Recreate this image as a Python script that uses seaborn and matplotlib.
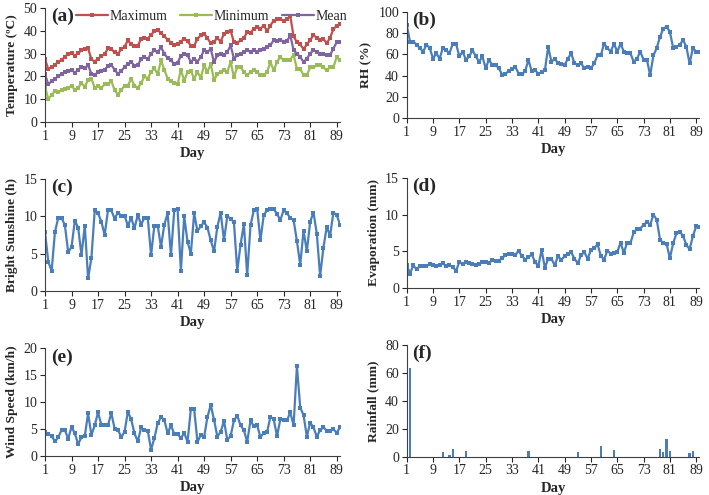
import numpy as np
import pandas as pd
import matplotlib
matplotlib.use("Agg")
import matplotlib.pyplot as plt
from matplotlib.lines import Line2D
import seaborn as sns

days = list(range(1, 91))
tick_days = [1, 9, 17, 25, 33, 41, 49, 57, 65, 73, 81, 89]

t_max = [27.5, 23.2, 24.0, 25.2, 26.3, 27.3, 28.5, 30.0, 30.3, 29.0,
         30.2, 31.5, 32.0, 32.3, 27.5, 26.5, 27.8, 28.8, 29.8, 32.3,
         32.0, 30.5, 29.8, 32.0, 33.0, 35.8, 34.0, 33.2, 33.5, 36.5,
         37.0, 36.5, 38.3, 39.8, 40.3, 39.0, 37.6, 36.1, 34.8, 33.8,
         34.4, 35.3, 36.5, 35.5, 33.5, 33.5, 36.5, 38.0, 38.7, 36.8,
         34.5, 35.3, 36.8, 35.3, 38.7, 39.5, 40.0, 35.0, 34.5, 36.0,
         36.8, 39.4, 39.0, 41.0, 41.6, 41.0, 42.3, 40.0, 42.3, 44.5,
         45.0, 45.0, 44.5, 45.0, 46.5, 37.5, 35.0, 34.0, 32.0, 34.0,
         36.0, 38.0, 37.0, 36.0, 36.5, 34.5, 37.0, 40.6, 42.3, 43.0]
t_min = [15.5, 10.0, 12.0, 13.5, 13.0, 14.0, 14.5, 15.0, 16.0, 14.0,
         15.0, 17.0, 15.5, 18.5, 19.0, 15.0, 16.0, 15.0, 16.5, 16.5,
         18.0, 14.0, 12.0, 14.0, 16.0, 16.0, 19.0, 16.0, 15.0, 17.0,
         20.0, 19.0, 22.0, 23.5, 21.0, 27.0, 23.0, 19.0, 18.0, 17.0,
         16.5, 23.0, 18.0, 22.0, 22.5, 19.0, 21.9, 19.5, 24.8, 22.0,
         25.5, 18.3, 21.0, 21.9, 22.6, 22.0, 26.3, 19.8, 24.0, 24.0,
         21.9, 20.5, 21.9, 22.6, 21.9, 20.5, 20.5, 21.9, 26.3, 22.6,
         26.3, 28.5, 27.0, 27.0, 27.3, 29.5, 23.3, 23.3, 20.5, 20.5,
         24.0, 24.0, 24.8, 24.8, 24.0, 22.6, 24.0, 24.0, 28.5, 27.0]
t_mean = [21.0, 16.5, 18.0, 19.0, 20.0, 21.0, 22.0, 22.5, 23.0, 21.5,
          23.0, 24.0, 23.5, 25.0, 21.0, 20.5, 22.0, 22.3, 23.0, 24.5,
          25.0, 23.0, 21.0, 22.5, 24.0, 25.5, 26.5, 24.5, 25.0, 27.5,
          28.5, 27.5, 30.0, 31.5, 30.5, 32.8, 30.0, 28.0, 27.0, 25.5,
          26.0, 29.0, 30.0, 29.3, 26.3, 27.8, 26.5, 28.5, 31.5, 30.7,
          32.0, 26.3, 29.3, 30.0, 29.3, 30.7, 33.6, 27.8, 29.3, 30.0,
          30.7, 31.5, 30.7, 31.5, 30.7, 31.5, 32.2, 33.0, 33.6, 36.0,
          35.5, 36.0, 35.3, 35.5, 38.0, 31.5, 30.0, 28.5, 26.3, 27.8,
          30.0, 31.5, 30.7, 30.0, 30.0, 29.6, 29.3, 32.2, 35.0, 35.0]
rh = [87.5, 72, 72, 69, 66, 62.5, 69, 66, 56, 61,
      56, 66, 64, 61, 70, 70, 58, 62.5, 55, 58,
      64, 58, 53, 58, 47, 55, 50, 50, 47, 41,
      42, 44, 46, 48.5, 42, 41.5, 44, 55, 44, 45,
      42, 43, 45, 67, 53, 56, 51.5, 51, 50, 56,
      61, 51.5, 50, 51.5, 47, 48, 47, 51.5, 59, 59,
      70, 66, 62.5, 70, 62.5, 70, 62.5, 61, 61, 53,
      56, 62.5, 55, 55, 40.6, 59, 66, 76.5, 84, 86,
      81, 66, 67, 69, 73.5, 67, 51.5, 66, 62.5, 62.5]
sunshine = [7.9, 3.9, 2.7, 7.9, 9.8, 9.8, 8.8, 5.2, 5.9, 9.4,
            8.5, 4.8, 8.75, 1.7, 4.4, 10.8, 10.4, 9.3, 7.5, 10.8,
            10.8, 9.7, 10.5, 10.1, 10.1, 8.75, 9.8, 8.4, 10.2, 8.9,
            9.8, 9.8, 4.8, 8.75, 8.75, 5.9, 8.9, 10.4, 4.8, 10.8,
            11.0, 2.7, 10.0, 6.6, 5.0, 10.4, 8.0, 8.7, 9.2, 8.5,
            6.8, 5.3, 8.6, 10.5, 6.8, 10.0, 9.7, 9.2, 2.7, 6.2,
            9.0, 2.1, 8.8, 10.8, 11.0, 6.8, 10.2, 10.8, 11.0, 11.0,
            10.3, 9.5, 10.8, 10.4, 9.8, 9.5, 6.7, 3.5, 8.1, 5.3,
            9.3, 10.5, 7.7, 2.0, 5.8, 8.6, 7.4, 10.5, 10.2, 8.9]
evaporation = [3.2, 2.0, 3.1, 2.6, 3.0, 3.0, 3.0, 3.3, 3.1, 3.0,
               3.1, 3.4, 3.0, 3.1, 2.9, 2.35, 3.6, 3.25, 3.6, 3.4,
               3.35, 3.1, 3.3, 3.5, 3.6, 3.4, 3.85, 3.7, 3.7, 4.1,
               4.5, 4.6, 4.6, 4.5, 5.1, 4.4, 3.9, 4.2, 4.6, 3.6,
               3.0, 5.2, 2.8, 4.0, 4.0, 3.1, 4.4, 3.8, 4.4, 4.6,
               4.9, 4.0, 3.4, 4.5, 4.9, 4.0, 5.2, 5.4, 6.0, 4.4,
               3.9, 5.1, 4.7, 4.8, 4.9, 6.2, 4.8, 6.2, 6.1, 7.6,
               8.0, 8.1, 8.6, 9.0, 8.6, 10.0, 9.3, 6.6, 6.1, 6.0,
               4.1, 6.1, 7.5, 7.7, 7.1, 5.9, 5.3, 7.1, 8.4, 8.3]
wind = [4.4, 4.1, 3.7, 2.7, 3.5, 4.8, 4.8, 3.2, 5.4, 4.2,
        2.2, 3.5, 3.7, 7.9, 3.9, 5.7, 8.1, 5.8, 5.7, 5.7,
        8.0, 5.1, 4.9, 3.5, 4.5, 8.2, 6.8, 4.2, 2.7, 5.3,
        4.8, 4.7, 1.2, 3.3, 6.1, 7.2, 6.7, 4.2, 5.7, 4.1,
        4.1, 3.3, 4.3, 2.6, 8.7, 8.7, 2.6, 3.9, 3.5, 7.2,
        9.5, 6.7, 3.6, 4.5, 6.5, 3.0, 3.7, 6.6, 7.5, 5.7,
        4.8, 2.6, 6.6, 5.5, 5.7, 3.5, 4.3, 4.4, 7.3, 6.8,
        3.7, 6.8, 6.6, 6.6, 8.1, 5.7, 16.7, 9.0, 7.6, 3.6,
        6.2, 5.3, 3.6, 4.8, 5.3, 4.7, 4.7, 5.0, 4.3, 5.3]
rain_days = [2, 12, 14, 15, 19, 38, 53, 60, 64, 78, 79, 80, 81, 87, 88]
rain_vals = [63.2, 3.1, 1.0, 5.3, 4.3, 4.3, 3.1, 7.9, 4.8, 5.5, 3.1, 12.6, 4.3, 2.9, 4.3]

sns.set_style("ticks")
plt.rcParams['font.family'] = ['Liberation Serif', 'DejaVu Serif']
plt.rcParams['xtick.direction'] = 'out'
plt.rcParams['ytick.direction'] = 'out'

RED, GREEN, PURPLE, BLUE = "#c0504d", "#9bbb59", "#8064a2", "#4a7ebb"
W, H = 709, 495
fig = plt.figure(figsize=(W / 100, H / 100), dpi=100)

def make_ax(l, r, t, b):
    return fig.add_axes([l / W, 1 - b / H, (r - l) / W, (b - t) / H])

def style(ax, ylim, yticks, ylabel, tag):
    ax.set_xlim(1, 90)
    ax.set_ylim(*ylim)
    ax.set_xticks(tick_days)
    ax.set_xticklabels([str(d) for d in tick_days])
    ax.set_yticks(yticks)
    ax.tick_params(labelsize=10, length=3.5, width=0.8, pad=2)
    for s in ("top", "right"):
        ax.spines[s].set_visible(False)
    for s in ("left", "bottom"):
        ax.spines[s].set_linewidth(0.8)
        ax.spines[s].set_color("#404040")
    ax.set_xlabel("Day", fontsize=10.5, fontweight="bold", labelpad=3)
    ax.set_ylabel(ylabel, fontsize=9.7, fontweight="bold", labelpad=4)
    ax.text(0.02, 1.0, tag, transform=ax.transAxes, fontsize=14,
            fontweight="bold", va="top", ha="left")

LW, MS = 1.6, 2.6

def line(ax, y, color):
    sns.lineplot(x=days, y=y, ax=ax, color=color, linewidth=LW, marker="s",
                 markersize=MS, markeredgewidth=0)

# (a)
ax = make_ax(45, 340, 8, 122)
line(ax, t_max, RED)
line(ax, t_min, GREEN)
line(ax, t_mean, PURPLE)
style(ax, (0, 50), [0, 10, 20, 30, 40, 50], "Temperature (ºC)", "(a)")
handles = [Line2D([], [], color=c, lw=LW, marker="s", markersize=MS, markeredgewidth=0)
           for c in (RED, GREEN, PURPLE)]
ax.legend(handles, ["Maximum", "Minimum", "Mean"], ncol=3, frameon=False,
          loc="upper center", bbox_to_anchor=(0.565, 1.09), fontsize=10,
          handlelength=2.3, columnspacing=0.9, handletextpad=0.15)

# (b)
ax = make_ax(406.7, 699.5, 11.7, 118.3)
line(ax, rh, BLUE)
style(ax, (0, 100), [0, 20, 40, 60, 80, 100], "RH (%)", "(b)")

# (c)
ax = make_ax(45, 340, 179, 291)
line(ax, sunshine, BLUE)
style(ax, (0, 15), [0, 5, 10, 15], "Bright Sunshine (h)", "(c)")

# (d)
ax = make_ax(406.7, 699.5, 177.7, 288.3)
line(ax, evaporation, BLUE)
style(ax, (0, 15), [0, 5, 10, 15], "Evaporation (mm)", "(d)")

# (e)
ax = make_ax(45, 340, 348.3, 456)
line(ax, wind, BLUE)
style(ax, (0, 20), [0, 5, 10, 15, 20], "Wind Speed (km/h)", "(e)")

# (f)
ax = make_ax(406.7, 699.5, 345, 456.7)
rain_df = pd.DataFrame({"day": days, "rain": 0.0})
rain_df.loc[rain_df["day"].isin(rain_days), "rain"] = rain_vals
sns.barplot(data=rain_df, x="day", y="rain", native_scale=True, ax=ax,
            color=BLUE, saturation=1, width=0.7, errorbar=None, linewidth=0)
style(ax, (0, 80), [0, 20, 40, 60, 80], "Rainfall (mm)", "(f)")

fig.savefig("out.png", dpi=100)
